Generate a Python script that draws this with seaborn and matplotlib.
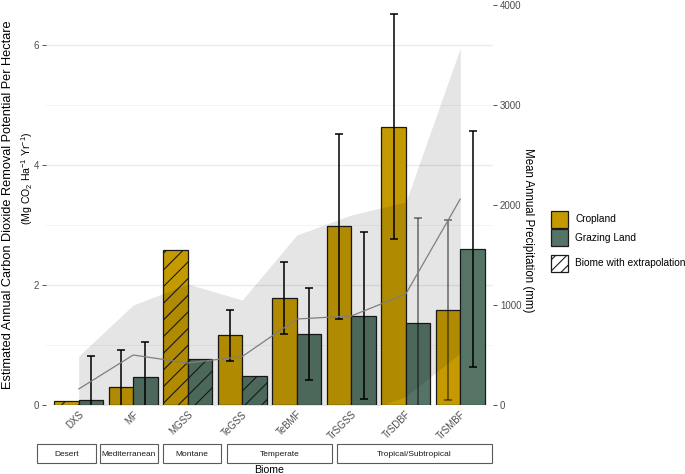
import numpy as np
import pandas as pd
import matplotlib
matplotlib.use("Agg")
import matplotlib.pyplot as plt
import seaborn as sns
from matplotlib.patches import Rectangle

# ---------------- data ----------------
biomes = ["DXS", "MF", "MGSS", "TeGSS", "TeBMF", "TrSGSS", "TrSDBF", "TrSMBF"]
crop_vals = [0.07, 0.295, 2.58, 1.16, 1.79, 2.98, 4.64, 1.58]
crop_err = [np.nan, 0.625, np.nan, 0.42, 0.60, 1.54, 1.88, 1.50]
graz_vals = [0.08, 0.46, 0.77, 0.48, 1.18, 1.49, 1.36, 2.60]
graz_err = [0.74, 0.59, np.nan, np.nan, 0.77, 1.39, 1.76, 1.96]
crop_extrap = [True, False, True, False, False, False, False, False]
graz_extrap = [False, False, True, True, False, False, False, False]
precip_mean = [160, 500, 420, 485, 860, 890, 1110, 2060]
precip_low = [-170, -20, -370, -90, -20, -110, 85, 520]
precip_high = [490, 1000, 1210, 1050, 1700, 1900, 2030, 3570]
group_names = ["Desert", "Mediterranean", "Montane", "Temperate", "Tropical/Subtropical"]
land_types = ["Cropland", "Grazing Land"]
right_ticks = [0, 1000, 2000, 3000, 4000]
left_ticks = [0, 2, 4, 6]

# ---------------- style ----------------
sns.set_theme(style="white")
plt.rcParams["font.family"] = ["Liberation Sans", "DejaVu Sans"]
plt.rcParams["mathtext.fontset"] = "custom"
plt.rcParams["mathtext.rm"] = "Liberation Sans"
plt.rcParams["mathtext.it"] = "Liberation Sans:italic"
plt.rcParams["hatch.linewidth"] = 0.8

CROP = "#C49A00"
GRAZ = "#557466"
palette = {"Cropland": CROP, "Grazing Land": GRAZ}
TICKC = "#4D4D4D"

W, H = 685, 474
fig = plt.figure(figsize=(W / 100, H / 100), dpi=100)
fig.patch.set_facecolor("white")

px_l, px_r, px_t, px_b = 46, 493, 0, 405
ax = fig.add_axes([px_l / W, 1 - px_b / H, (px_r - px_l) / W, (px_b - px_t) / H])

df = pd.DataFrame({
    "biome": biomes * 2,
    "land": ["Cropland"] * len(biomes) + ["Grazing Land"] * len(biomes),
    "value": crop_vals + graz_vals,
    "err": crop_err + graz_err,
    "extrap": crop_extrap + graz_extrap,
})

# grid under bars
ax.set_axisbelow(True)
for v in [1, 3, 5]:
    ax.axhline(v, color="#F2F2F2", lw=0.6, zorder=0)
for v in left_ticks:
    ax.axhline(v, color="#EBEBEB", lw=1.0, zorder=0)

sns.barplot(data=df, x="biome", y="value", hue="land", order=biomes,
            hue_order=land_types, palette=palette, width=0.9, gap=0,
            errorbar=None, edgecolor="#1a1a1a", linewidth=0.9,
            saturation=1, legend=False, ax=ax)

# hatching for extrapolated biomes
bars = [p for p in ax.patches if isinstance(p, Rectangle)]
for p in bars:
    cx = p.get_x() + p.get_width() / 2
    idx = int(round(cx))
    is_crop = cx < idx
    row = df[(df.biome == biomes[idx]) & (df.land == ("Cropland" if is_crop else "Grazing Land"))].iloc[0]
    if row.extrap:
        p.set_hatch("//")
    p.set_zorder(1)

# error bars
faded = {("TrSDBF", "Grazing Land"), ("TrSMBF", "Cropland")}
for _, r in df.iterrows():
    if np.isnan(r.err):
        continue
    i = biomes.index(r.biome)
    x = i - 0.225 if r.land == "Cropland" else i + 0.225
    a = 0.55 if (r.biome, r.land) in faded else 1.0
    ax.errorbar(x, r.value, yerr=r.err, fmt="none", ecolor="black",
                elinewidth=1.1, capsize=3.2, capthick=1.1, alpha=a, zorder=3)

ax.set_xlim(-0.6, 7.6)
ax.set_ylim(0, 6.75)
ax.set_yticks(left_ticks)
ax.set_yticklabels([str(t) for t in left_ticks])
ax.set_xlabel("")
ax.set_ylabel("")
for s in ax.spines.values():
    s.set_visible(False)
ax.tick_params(axis="y", length=3, width=0.6, color="#333333", labelsize=7,
               labelcolor=TICKC, pad=2, left=True)
ax.tick_params(axis="x", length=0, labelsize=7, labelcolor=TICKC, pad=3)
plt.setp(ax.get_xticklabels(), rotation=45, ha="right", rotation_mode="anchor")

# precipitation (secondary axis)
ax2 = ax.twinx()
xs = np.arange(len(biomes))
ax2.fill_between(xs, precip_low, precip_high, color="black", alpha=0.1, lw=0)
sns.lineplot(x=xs, y=precip_mean, color="#7f7f7f", lw=0.9, ax=ax2)
ax2.set_ylim(0, 6.75 * 600)
ax2.set_yticks(right_ticks)
ax2.set_yticklabels([str(t) for t in right_ticks])
for s in ax2.spines.values():
    s.set_visible(False)
ax2.tick_params(axis="y", length=3, width=0.6, color="#333333", labelsize=7,
                labelcolor=TICKC, pad=2, right=True)
ax2.set_ylabel("")
ax2.set_xlim(-0.6, 7.6)

# axis titles
def fx(px):
    return px / W

def fy(py):
    return 1 - py / H

fig.text(fx(8), fy(205), "Estimated Annual Carbon Dioxide Removal Potential Per Hectare",
         rotation=90, ha="center", va="center", fontsize=9.2, color="black")
fig.text(fx(27), fy(178), r"(Mg CO$_2$ Ha$^{-1}$ Yr$^{-1}$)",
         rotation=90, ha="center", va="center", fontsize=7.6, color="black")
fig.text(fx(528), fy(230), "Mean Annual Precipitation (mm)", rotation=270,
         ha="center", va="center", fontsize=8.3, color="black")
fig.text(fx(269), fy(473), "Biome", ha="center", va="baseline", fontsize=7.6,
         color="black")

# biome group strips
strip_px = [(37, 96), (100, 158), (163, 221), (227, 332), (337, 492)]
for (x0, x1), name in zip(strip_px, group_names):
    fig.patches.append(Rectangle((fx(x0), fy(463)), (x1 - x0) / W, 19 / H,
                                 transform=fig.transFigure, facecolor="white",
                                 edgecolor="#5a5a5a", lw=0.8))
    fig.text(fx((x0 + x1) / 2), fy(454), name, ha="center", va="center",
             fontsize=6, color="#1a1a1a")

# legend
leg_items = [("Cropland", CROP, "", 211), ("Grazing Land", GRAZ, "", 229),
             ("Biome with extrapolation", "white", "///", 255)]
for lab, col, hatch, ytop in leg_items:
    fig.patches.append(Rectangle((fx(551), fy(ytop + 17)), 17 / W, 17 / H,
                                 transform=fig.transFigure, facecolor=col,
                                 edgecolor="#1a1a1a", lw=0.9, hatch=hatch))
    fig.text(fx(575), fy(ytop + 8.5), lab, ha="left", va="center", fontsize=7.3,
             color="black")

fig.savefig("out.png", dpi=100, facecolor="white")
